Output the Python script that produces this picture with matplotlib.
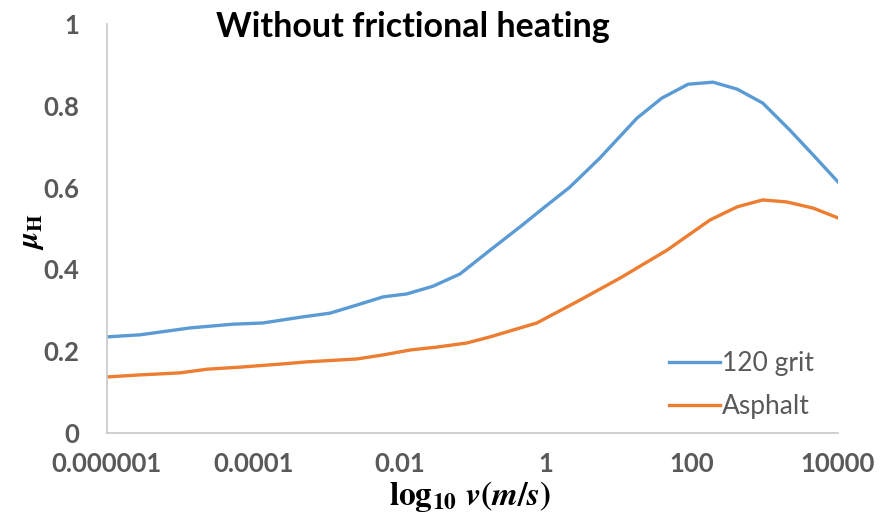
import numpy as np
import matplotlib.pyplot as plt

# log10 of sliding speed (m/s) and hysteresis friction coefficient
logv_grit = [-6.00, -5.55, -4.86, -4.28, -3.87, -3.32, -2.95, -2.58, -2.22, -1.90,
             -1.54, -1.17, -0.76, -0.35, -0.01, 0.33, 0.74, 1.25, 1.59, 1.95,
             2.29, 2.62, 2.97, 3.34, 3.66, 4.00]
mu_grit = [0.235, 0.240, 0.257, 0.266, 0.269, 0.284, 0.293, 0.313, 0.333, 0.340,
           0.359, 0.389, 0.447, 0.504, 0.553, 0.601, 0.672, 0.770, 0.819, 0.853,
           0.858, 0.841, 0.807, 0.741, 0.680, 0.614]

logv_asph = [-6.00, -5.55, -5.00, -4.63, -4.18, -3.59, -3.26, -2.58, -2.22, -1.85,
             -1.49, -1.08, -0.76, -0.12, 0.47, 1.02, 1.66, 2.25, 2.62, 2.97,
             3.30, 3.66, 4.00]
mu_asph = [0.137, 0.142, 0.147, 0.156, 0.161, 0.169, 0.174, 0.181, 0.191, 0.203,
           0.210, 0.220, 0.235, 0.269, 0.325, 0.379, 0.447, 0.521, 0.553, 0.570,
           0.565, 0.550, 0.526]

xticks = [1e-6, 1e-4, 1e-2, 1, 100, 10000]
xticklabels = ['0.000001', '0.0001', '0.01', '1', '100', '10000']
yticks = [0, 0.2, 0.4, 0.6, 0.8, 1]
yticklabels = ['0', '0.2', '0.4', '0.6', '0.8', '1']

plt.rcParams['mathtext.fontset'] = 'stix'
plt.rcParams['font.family'] = ['Lato', 'DejaVu Sans']

fig = plt.figure(figsize=(8.93, 5.13), dpi=100)
ax = fig.add_axes([0.1198, 0.156, 0.8186, 0.797])

ax.plot(10 ** np.array(logv_grit), mu_grit, color='#5b9bd5', lw=2.4, label='120 grit')
ax.plot(10 ** np.array(logv_asph), mu_asph, color='#ed7d31', lw=2.4, label='Asphalt')

ax.set_xscale('log')
ax.set_xlim(1e-6, 1e4)
ax.set_ylim(0, 1)
ax.set_xticks(xticks)
ax.set_xticklabels(xticklabels)
ax.minorticks_off()
ax.set_yticks(yticks)
ax.set_yticklabels(yticklabels)
ax.tick_params(axis='both', length=0, labelsize=18.5, labelcolor='#595959')
ax.tick_params(axis='x', pad=14)
ax.tick_params(axis='y', pad=20)
for lab in ax.get_xticklabels() + ax.get_yticklabels():
    lab.set_fontweight('bold')

for s in ['top', 'right']:
    ax.spines[s].set_visible(False)
for s in ['left', 'bottom']:
    ax.spines[s].set_color('#c8c8c8')
    ax.spines[s].set_linewidth(1.2)

fig.text(0.462, 0.948, 'Without frictional heating', ha='center', va='center',
         fontsize=24.5, fontweight='bold', color='black')
fig.text(0.526, 0.032, r'$\mathbf{log_{10}}\ \boldsymbol{v(m/s)}$', ha='center', va='center',
         fontsize=24)
fig.text(0.036, 0.548, r'$\boldsymbol{\mu}_{\mathbf{H}}$', ha='center', va='center',
         rotation=90, fontsize=22)

leg = ax.legend(loc='lower right', bbox_to_anchor=(1.0, -0.025), frameon=False,
                fontsize=19, handlelength=1.9, handletextpad=0.1, labelspacing=0.7)
for t in leg.get_texts():
    t.set_color('#595959')

fig.savefig('out.png', dpi=100)
